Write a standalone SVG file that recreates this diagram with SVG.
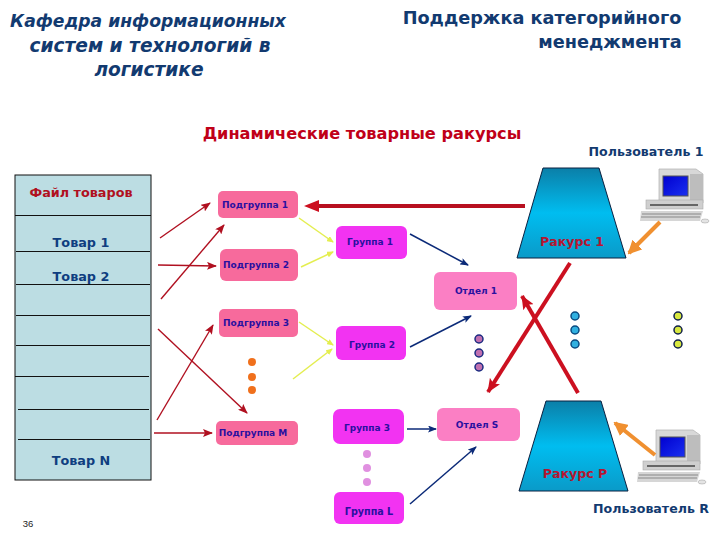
<svg xmlns="http://www.w3.org/2000/svg" width="720" height="540" viewBox="0 0 720 540">
<defs>
<linearGradient id="tg" x1="0" y1="0" x2="0" y2="1"><stop offset="0" stop-color="#0b7fa8"/><stop offset="0.5" stop-color="#00bdf0"/><stop offset="1" stop-color="#0a9ac8"/></linearGradient>
<linearGradient id="scr" x1="0" y1="0" x2="1" y2="1"><stop offset="0" stop-color="#0000d0"/><stop offset="1" stop-color="#1a30f0"/></linearGradient>
<marker id="ar" markerUnits="userSpaceOnUse" markerWidth="10" markerHeight="8" refX="9" refY="4" orient="auto"><path d="M0 0L10 4L0 8L2 4Z" fill="#b01020"/></marker>
<marker id="an" markerUnits="userSpaceOnUse" markerWidth="9" markerHeight="7" refX="8" refY="3.5" orient="auto"><path d="M0 0L9 3.5L0 7L2 3.5Z" fill="#0b2a78"/></marker>
<marker id="ay" markerUnits="userSpaceOnUse" markerWidth="7" markerHeight="6" refX="6" refY="3" orient="auto"><path d="M0 0L7 3L0 6Z" fill="#e4ee50"/></marker>
<marker id="ab" markerUnits="userSpaceOnUse" markerWidth="14" markerHeight="12" refX="13" refY="6" orient="auto"><path d="M0 0L14 6L0 12L3 6Z" fill="#cc1020"/></marker>
<marker id="ao" markerUnits="userSpaceOnUse" markerWidth="14" markerHeight="14" refX="12" refY="7" orient="auto"><path d="M0 0L14 7L0 14Z" fill="#f09030"/></marker>
<g id="pc">
<path d="M19 0H56L63 5V34H19Z" fill="#d8d8d8" stroke="#b8b8b8" stroke-width="0.8"/>
<rect x="23" y="7" width="25" height="20" fill="url(#scr)" stroke="#555"/>
<rect x="50" y="5" width="13" height="29" fill="#bdbdbd"/>
<rect x="6" y="31" width="57" height="9" fill="#cfcfcf" stroke="#aaa" stroke-width="0.6"/>
<rect x="10" y="35" width="48" height="2" fill="#666"/>
<path d="M1 42H63L60 52H0Z" fill="#d6d6d6"/>
<path d="M2 45H61M1 48H60" stroke="#888" stroke-width="1"/>
<ellipse cx="65" cy="52" rx="4" ry="2" fill="#e4e4e4" stroke="#aaa" stroke-width="0.6"/>
</g>
</defs>
<style>
text{font-family:"DejaVu Sans","Liberation Sans",sans-serif;font-weight:700}
.h{font-size:17.7px;fill:#123a70;text-anchor:middle}
.hi{font-style:italic}
.it{font-size:12.8px;fill:#0f3e80;text-anchor:middle}
.sm{font-size:9px;fill:#2a10a0;text-anchor:middle}
.u{font-size:12.6px;fill:#123a70;text-anchor:middle}
.r{font-size:12.6px;fill:#b51530;text-anchor:middle}
.sg{fill:#f76a9c}.gr{fill:#f233f2}.dp{fill:#fb7fc4}
.w{stroke:#b01020;stroke-width:1.4;fill:none;marker-end:url(#ar)}
.n{stroke:#0b2a78;stroke-width:1.5;fill:none;marker-end:url(#an)}
.y{stroke:#e4ee50;stroke-width:1.5;fill:none;marker-end:url(#ay)}
.b{stroke:#cc1020;stroke-width:4;fill:none;marker-end:url(#ab)}
.o{stroke:#f09030;stroke-width:4;fill:none;marker-end:url(#ao)}
.grid{stroke:#111;stroke-width:1}
</style>
<rect width="720" height="540" fill="#fff"/>
<g id="titles">
<text class="h hi" x="148" y="27" style="font-size:17.2px">Кафедра информационных</text>
<text class="h hi" x="150" y="52" style="font-size:18.6px">систем и технологий в</text>
<text class="h hi" x="149" y="76" style="font-size:18.6px">логистике</text>
<text class="h" x="542" y="24">Поддержка категорийного</text>
<text class="h" x="610" y="48">менеджмента</text>
<text x="362" y="139" text-anchor="middle" font-size="16.2" fill="#c00018">Динамические товарные ракурсы</text>
</g>
<g id="table">
<rect x="15" y="175" width="136" height="305" fill="#bcdde3" stroke="#111" stroke-width="1"/>
<path class="grid" d="M15 215.500H151M16 251.500H150M16 284.500H150M16 315.500H150M16 345.500H150M15 376.500H149M18 409.500H149M18 439.500H150"/>
<text x="81" y="197" text-anchor="middle" font-size="12.8" fill="#b01020">Файл товаров</text>
<text class="it" x="81" y="247">Товар 1</text>
<text class="it" x="81" y="281">Товар 2</text>
<text class="it" x="81" y="465">Товар N</text>
</g>
<g id="subgroup1"><rect class="sg" x="218" y="191" width="80" height="27" rx="5"/><text class="sm" x="255" y="208">Подгруппа 1</text></g>
<g id="subgroup2"><rect class="sg" x="220" y="249" width="78" height="32" rx="6"/><text class="sm" x="256" y="268">Подгруппа 2</text></g>
<g id="subgroup3"><rect class="sg" x="219" y="309" width="79" height="28" rx="5"/><text class="sm" x="256" y="326">Подгруппа 3</text></g>
<g id="subgroupM"><rect class="sg" x="216" y="421" width="82" height="24" rx="5"/><text class="sm" x="253" y="436">Подгруппа М</text></g>
<g id="group1"><rect class="gr" x="336" y="226" width="71" height="33" rx="6"/><text class="sm" x="370" y="245">Группа 1</text></g>
<g id="group2"><rect class="gr" x="336" y="326" width="70" height="34" rx="6"/><text class="sm" x="372" y="348">Группа 2</text></g>
<g id="group3"><rect class="gr" x="333" y="409" width="71" height="35" rx="7"/><text class="sm" x="367" y="431">Группа 3</text></g>
<g id="groupL"><rect class="gr" x="334" y="492" width="70" height="32" rx="6"/><text class="sm" x="369" y="515" style="font-size:9.6px">Группа L</text></g>
<g id="dept1"><rect class="dp" x="434" y="272" width="83" height="38" rx="6"/><text class="sm" x="476" y="294">Отдел 1</text></g>
<g id="deptS"><rect class="dp" x="437" y="408" width="83" height="33" rx="6"/><text class="sm" x="477" y="428">Отдел S</text></g>
<g id="view1"><path d="M543 168H599L626 258H517Z" fill="url(#tg)" stroke="#0a2040"/><text class="r" x="572" y="246">Ракурс 1</text></g>
<g id="viewP"><path d="M546 401H601L628 491H519Z" fill="url(#tg)" stroke="#0a2040"/><text class="r" x="575" y="478">Ракурс Р</text></g>
<g id="user1"><use href="#pc" x="640" y="169"/><text class="u" x="646" y="156">Пользователь 1</text></g>
<g id="userR"><use href="#pc" x="637" y="430"/><text class="u" x="651" y="513">Пользователь R</text></g>
<g id="dots">
<g fill="#f0701c"><circle cx="252" cy="362" r="4"/><circle cx="252" cy="377" r="4"/><circle cx="252" cy="390" r="4"/></g>
<g fill="#c070b0" stroke="#1a2a80" stroke-width="1.500"><circle cx="479" cy="339" r="4"/><circle cx="479" cy="353" r="4"/><circle cx="479" cy="367" r="4"/></g>
<g fill="#e090e0"><circle cx="367" cy="454" r="4"/><circle cx="367" cy="468" r="4"/><circle cx="367" cy="482" r="4"/></g>
<g fill="#30b0e0" stroke="#0a4a80" stroke-width="1.500"><circle cx="575" cy="316" r="4"/><circle cx="575" cy="330" r="4"/><circle cx="575" cy="344" r="4"/></g>
<g fill="#d8e840" stroke="#10204a" stroke-width="1.500"><circle cx="678" cy="316" r="4"/><circle cx="678" cy="330" r="4"/><circle cx="678" cy="344" r="4"/></g>
</g>
<g id="connectors">
<path class="w" d="M160 238L210 203"/>
<path class="w" d="M158 265L216 266"/>
<path class="w" d="M161 299L224 225"/>
<path class="w" d="M158 329L247 413"/>
<path class="w" d="M157 420L213 325"/>
<path class="w" d="M154 433L212 433"/>
<path class="y" d="M299 218L333 242"/>
<path class="y" d="M301 267L333 252"/>
<path class="y" d="M299 322L333 345"/>
<path class="y" d="M293 379L332 349"/>
<path class="n" d="M410 234L468 265"/>
<path class="n" d="M410 347L471 316"/>
<path class="n" d="M407 429L436 429"/>
<path class="n" d="M410 504L476 447"/>
<path d="M525 206H318" stroke="#b81020" stroke-width="4" fill="none"/>
<path d="M319 200L304 206L319 212Z" fill="#cc1020"/>
<path class="b" d="M570 263L488 392"/>
<path class="b" d="M578 393L522 296"/>
<path class="o" d="M660 222L629 253"/>
<path class="o" d="M655 455L615 423"/>
</g>
<text id="pagenum" x="28" y="527" text-anchor="middle" style="font-family:'Liberation Sans',sans-serif;font-weight:400" font-size="9.500" fill="#222">36</text>
</svg>
